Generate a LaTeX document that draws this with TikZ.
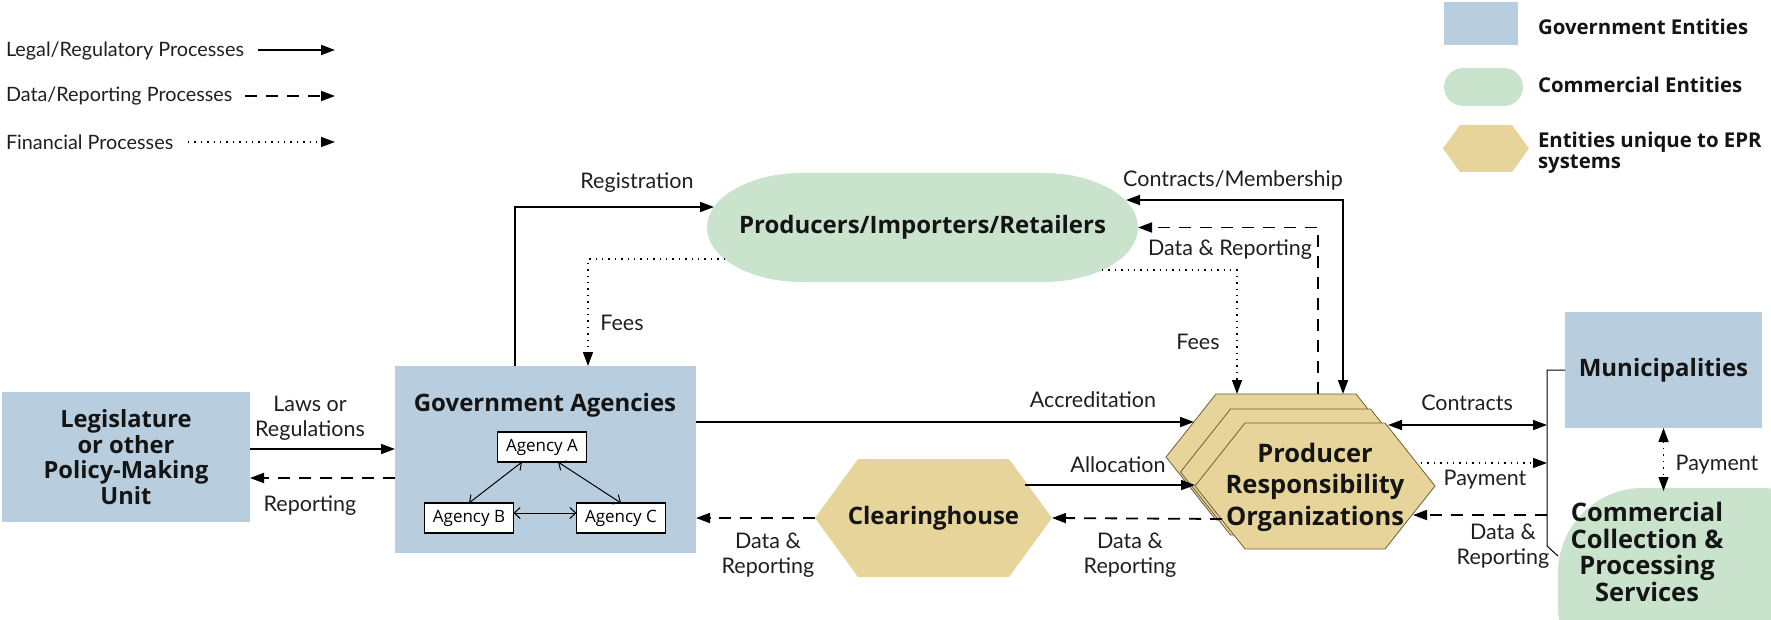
\documentclass[tikz,border=0pt]{standalone}
\usepackage{fontspec}
\setmainfont{Lato}
\newfontfamily\bfam{Open Sans}
\usetikzlibrary{arrows.meta,calc,backgrounds}
\definecolor{govblue}{RGB}{184,206,222}
\definecolor{comgreen}{RGB}{202,227,204}
\definecolor{eprtan}{RGB}{230,212,155}
\definecolor{hexline}{RGB}{110,95,55}
\newcommand\hexfill[5]{\path[#5] ($(#1)+(-#2,0)$) -- ($(#1)+(-#2+#4,-#3)$) -- ($(#1)+(#2-#4,-#3)$) -- ($(#1)+(#2,0)$) -- ($(#1)+(#2-#4,#3)$) -- ($(#1)+(-#2+#4,#3)$) -- cycle;}
\tikzset{
  every node/.style={inner sep=0pt, outer sep=0pt},
  >={Triangle[length=14pt,width=10pt]},
  lbl/.style={font=\fontsize{21.5}{25}\selectfont, align=center, text=black!88},
  lgtxt/.style={font=\fontsize{19.8}{22}\selectfont, text=black!88},
  keytxt/.style={font=\bfam\bfseries\fontsize{20.4}{21}\selectfont, align=left, text=black!92},
  ent/.style={font=\bfam\bfseries\fontsize{24}{31}\selectfont, align=center, text=black!92},
  agency/.style={draw=black, line width=1.2pt, fill=white, minimum width=89pt, minimum height=30pt, font=\bfam\fontsize{17}{18}\selectfont},
  legal/.style={line width=1.8pt, ->},
  data/.style={line width=1.8pt, dash pattern=on 12pt off 9pt, ->},
  fin/.style={line width=1.4pt, dash pattern=on 1.4pt off 5pt, ->},
  agarrow/.style={line width=1pt, {Straight Barb[length=6pt,width=11pt]}-{Straight Barb[length=6pt,width=11pt]}},
  bracket/.style={line width=1pt},
}
\begin{document}
\begin{tikzpicture}[x=1pt,y=-1pt]
\useasboundingbox (0,0) rectangle (1771,620);
\clip (0,0) rectangle (1771,620);

% ---------- legend left
\node[lgtxt, anchor=west] (kL) at (6,51) {Legal/Regulatory Processes};
\node[lgtxt, anchor=west] (kD) at (6,96) {Data/Reporting Processes};
\node[lgtxt, anchor=west] (kF) at (6,142) {Financial Processes};
\coordinate (kLa) at (258,50); \coordinate (kLb) at (335,50);
\coordinate (kDa) at (245,96); \coordinate (kDb) at (335,96);
\coordinate (kFa) at (188,142); \coordinate (kFb) at (335,142);
\draw[legal] (kLa) -- (kLb);
\draw[data] (kDa) -- (kDb);
\draw[fin] (kFa) -- (kFb);

% ---------- legend right
\node[fill=govblue, minimum width=74pt, minimum height=43pt] (kGov) at (1481,23.5) {};
\node[fill=comgreen, rounded corners=19pt, minimum width=79pt, minimum height=38pt] (kCom) at (1483.5,87) {};
\node[minimum width=86pt, minimum height=47pt] (kEpr) at (1486,148.5) {};
\node[keytxt, anchor=west] (kGovT) at (1538,27) {Government Entities};
\node[keytxt, anchor=west] (kComT) at (1538,85) {Commercial Entities};
\node[keytxt, anchor=west] (kEprT) at (1538,152.5) {Entities unique to EPR\\systems};

% ---------- main entities
\node[ent, fill=govblue, minimum width=248pt, minimum height=130pt, font=\bfam\bfseries\fontsize{23.7}{25.6}\selectfont] (leg) at (126,457) {Legislature\\or other\\Policy-Making\\Unit};
\node[fill=govblue, minimum width=301pt, minimum height=187pt] (gov) at (545.5,459.5) {};
\node[ent] (govT) at (545,405) {Government Agencies};
\node[agency] (agA) at (542,447) {Agency A};
\node[agency] (agB) at (469,518) {Agency B};
\node[agency] (agC) at (621,518) {Agency C};
\node[ent, minimum width=431pt, minimum height=109pt] (prod) at (922.5,227.5) {Producers/Importers/Retailers};
\node[ent, minimum width=237pt, minimum height=118pt] (clear) at (933.5,518) {Clearinghouse};
\node[ent, minimum width=240pt, minimum height=126pt, font=\bfam\bfseries\fontsize{25.5}{31.5}\selectfont] (pro) at (1315,487) {Producer\\Responsibility\\Organizations};
\node[ent, fill=govblue, minimum width=197pt, minimum height=116pt] (mun) at (1663.5,370) {Municipalities};
\node[ent, font=\bfam\bfseries\fontsize{25.5}{26.5}\selectfont] (comm) at (1647,552) {Commercial\\Collection \&\\Processing\\Services};

\coordinate (proB) at ($(pro.center)+(-29,-30)$);
\coordinate (proM) at ($(pro.center)+(-14.5,-15)$);
\coordinate (proF) at ($(pro.center)+(0,-1)$);

\begin{scope}[on background layer]
  \hexfill{kEpr.center}{43}{23.5}{17}{fill=eprtan}
  \hexfill{clear.center}{118.5}{59}{43}{fill=eprtan}
  \hexfill{proB}{120}{63}{50}{fill=eprtan, draw=hexline, line width=0.8pt}
  \hexfill{proM}{120}{63}{50}{fill=eprtan, draw=hexline, line width=0.8pt}
  \hexfill{proF}{120}{63}{50}{fill=eprtan, draw=hexline, line width=0.8pt}
  \fill[comgreen] ($(prod.north west)+(95,0)$) arc[start angle=270, end angle=90, x radius=95, y radius=54.5]
     -- ($(prod.south east)+(-95,0)$) arc[start angle=90, end angle=-90, x radius=95, y radius=54.5] -- cycle;
  \fill[comgreen, rounded corners=85pt] ($(comm.center)+(-89,-64)$) rectangle ($(comm.center)+(200,140)$);
\end{scope}

% ---------- connectors
\draw[legal] (leg.east |- 0,449) -- (gov.west |- 0,449);
\draw[data] (gov.west |- 0,478) -- (leg.east |- 0,478);
\draw[legal] ($(gov.north west)+(120,0)$) |- ($(prod.west)+(7,-20.5)$);
\draw[fin] ($(prod.west)+(18,31.5)$) -| ($(gov.north west)+(193,0)$);
\draw[fin] ($(prod.east)+(-36,42.5)$) -| ($(proB)+(-49,-63)$);
\draw[legal,<->] ($(proB)+(57,-63)$) |- ($(prod.east)+(-12,-27.5)$);
\draw[data] ($(proB)+(32,-63)$) |- (prod.east);
\draw[legal] (gov.east |- 0,422) -- ($(proB)+(-92,-35)$);
\draw[legal] ($(clear.east)+(-27,-33)$) -- (pro.west |- 0,485);
\draw[data] ($(proF)+(-93,33)$) -- (clear.east);
\draw[data] (clear.west) -- (gov.east |- clear.west);

\coordinate (bB) at (1547,546);
\coordinate (bE) at (1558,556);
\draw[bracket] (mun.west) -| (bB) -- (bE);
\draw[legal,<->] ($(proF)+(73,-61)$) -- (bB |- 0,425);
\draw[fin] ($(proF)+(106,-23)$) -- (bB |- 0,463);
\draw[data] (bB |- 0,515) -- ($(proF)+(98,29)$);
\draw[fin,<->] (mun.south) -- (mun.south |- 0,491);

\draw[agarrow] ($(agA.south)+(-20,0)$) -- (agB.north);
\draw[agarrow] ($(agA.south)+(16,0)$) -- (agC.north);
\draw[agarrow] ($(agB.east)+(0,-5)$) -- ($(agC.west)+(0,-5)$);

% ---------- labels
\node[lbl] (tLaws) at (310,418) {Laws or\\Regulations};
\node[lbl] (tRep) at (310,506) {Reporting};
\node[lbl] (tReg) at (637,183) {Registration};
\node[lbl] (tFees1) at (622,323) {Fees};
\node[lbl] (tCM) at (1233,180) {Contracts/Membership};
\node[lbl] (tDR1) at (1230,250) {Data \& Reporting};
\node[lbl] (tFees2) at (1198,342) {Fees};
\node[lbl] (tAcc) at (1093,400) {Accreditation};
\node[lbl] (tAll) at (1118,465) {Allocation};
\node[lbl] (tDR2) at (768,555) {Data \&\\Reporting};
\node[lbl] (tDR3) at (1130,555) {Data \&\\Reporting};
\node[lbl] (tCon) at (1467,403) {Contracts};
\node[lbl] (tPay1) at (1485,480) {Payment};
\node[lbl] (tDR4) at (1503,546) {Data \&\\Reporting};
\node[lbl] (tPay2) at (1717,465) {Payment};
\end{tikzpicture}
\end{document}
